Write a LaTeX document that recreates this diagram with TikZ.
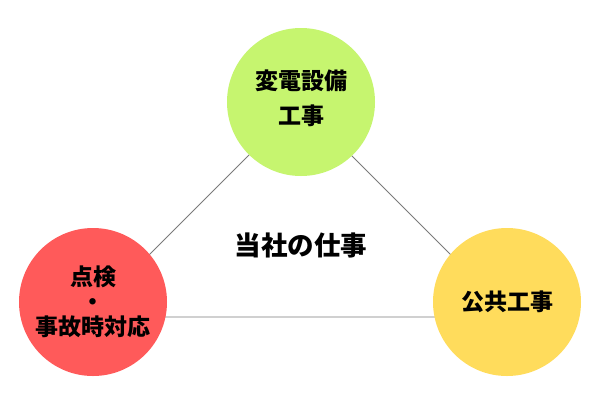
\documentclass[tikz,border=0pt]{standalone}
\usepackage{fontspec}
\newfontfamily\jp{Noto Sans CJK JP}
\definecolor{cgreen}{HTML}{C6F56F}
\definecolor{cred}{HTML}{FF5A5A}
\definecolor{cyellow}{HTML}{FFDC5C}
\definecolor{cline}{HTML}{7A7A7A}
\tikzset{
  bubble/.style={circle, draw=none, minimum size=148pt, inner sep=0pt, align=center, text=black},
  tline/.style={draw=cline, line width=0.9pt},
  lbl/.style={font=\jp\bfseries\fontsize{23}{35}\selectfont}
}
\begin{document}
\begin{tikzpicture}[x=1pt, y=-1pt]
\useasboundingbox (0,0) rectangle (600,400);
\fill[white] (0,0) rectangle (600,400);
\coordinate (vt) at (300,104);
\coordinate (vl) at (87,317);
\coordinate (vr) at (513,317);
\draw[tline] (vt) -- (vl) -- (vr) -- cycle;
\node[bubble, fill=cgreen, label={[lbl, align=center, yshift=3.5pt]center:{変電設備\\工事}}] (top) at (301,102) {};
\node[bubble, fill=cred, font=\jp\bfseries\fontsize{23}{25}\selectfont] (left) at (93,302) {点検\\・\\事故時対応};
\node[bubble, fill=cyellow, lbl] (right) at (507,302) {公共工事};
\node[font=\jp\bfseries\fontsize{26.5}{30}\selectfont] (center) at (301,245) {当社の仕事};
\end{tikzpicture}
\end{document}
